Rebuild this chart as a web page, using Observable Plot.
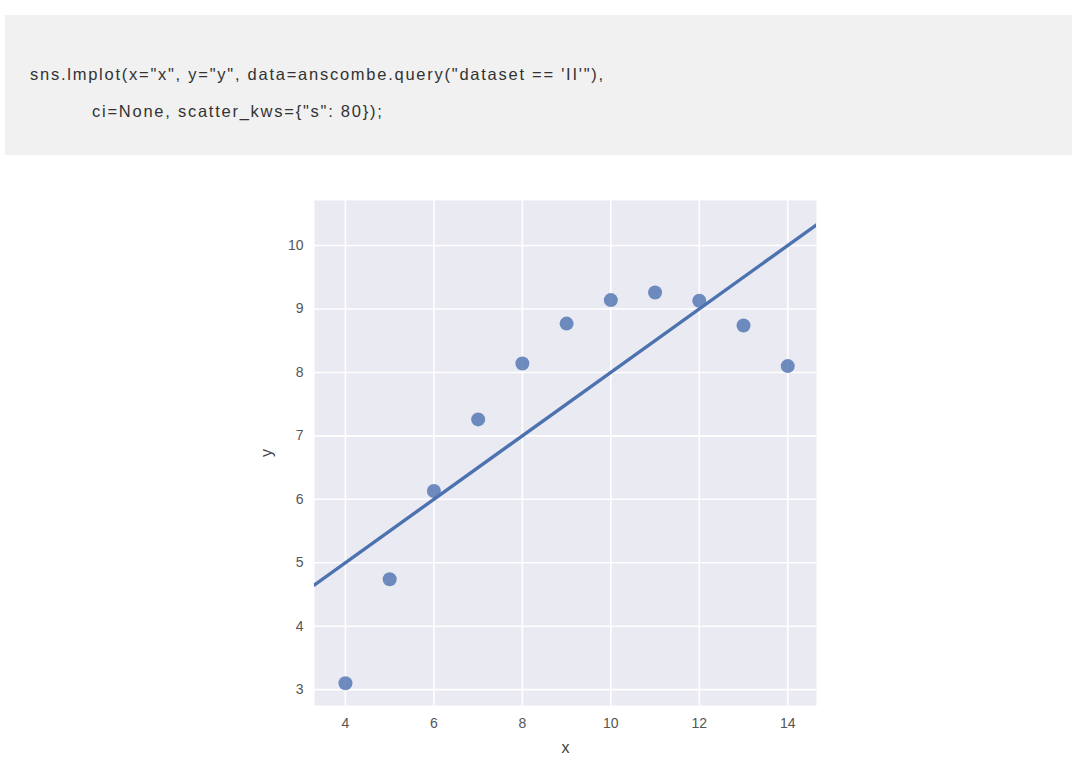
<!DOCTYPE html>
<html>
<head>
<meta charset="utf-8">
<script src="https://cdn.jsdelivr.net/npm/d3@7"></script>
<script src="https://cdn.jsdelivr.net/npm/@observablehq/plot@0.6"></script>
<style>
  html, body { margin: 0; padding: 0; background: #ffffff; width: 1080px; height: 758px; overflow: hidden; }
  #code {
    position: absolute; left: 5px; top: 15px; width: 1067px; height: 140px;
    background: #f1f1f1;
    font-family: "Liberation Sans", Arial, sans-serif; font-size: 16.5px; color: #333;
    letter-spacing: 1.75px;
  }
  #code .l1 { position: absolute; left: 25px; top: 50px; white-space: pre; }
  #code .l2 { position: absolute; left: 87px; top: 87px; white-space: pre; }
  #chart { position: absolute; left: 240px; top: 170px; }
</style>
</head>
<body>
<div id="code"><div class="l1">sns.lmplot(x="x", y="y", data=anscombe.query("dataset == 'II'"),</div><div class="l2">ci=None, scatter_kws={"s": 80});</div></div>
<div id="chart"></div>
<script>
const xs = [10, 8, 13, 9, 11, 14, 6, 4, 12, 7, 5];
const ys = [9.14, 8.14, 8.74, 8.77, 9.26, 8.10, 6.13, 3.10, 9.13, 7.26, 4.74];
const xDomain = [3.3, 14.65];
const yDomain = [2.75, 10.71];
const xTicks = [4, 6, 8, 10, 12, 14];
const yTicks = [3, 4, 5, 6, 7, 8, 9, 10];

const points = xs.map((x, i) => ({x, y: ys[i]}));
const mx = d3.mean(xs), my = d3.mean(ys);
const slope = d3.sum(xs, (x, i) => (x - mx) * (ys[i] - my)) / d3.sum(xs, x => (x - mx) ** 2);
const intercept = my - slope * mx;
const fit = xDomain.map(x => ({x, y: intercept + slope * x}));

const chart = Plot.plot({
  width: 586,
  height: 588,
  marginLeft: 74,
  marginRight: 10,
  marginTop: 30,
  marginBottom: 53,
  style: {fontFamily: "'Liberation Sans', Arial, sans-serif", fontSize: "14px", color: "#555", background: "transparent"},
  x: {domain: xDomain, ticks: xTicks},
  y: {domain: yDomain, ticks: yTicks},
  marks: [
    Plot.frame({fill: "#eaeaf2", stroke: null}),
    Plot.gridX(xTicks, {stroke: "#ffffff", strokeOpacity: 1, strokeWidth: 1.6}),
    Plot.gridY(yTicks, {stroke: "#ffffff", strokeOpacity: 1, strokeWidth: 1.6}),
    Plot.axisX(xTicks, {tickSize: 0, tickPadding: 13, tickFormat: d => String(d), label: null, fill: "#555", fontSize: 14}),
    Plot.axisY(yTicks, {tickSize: 0, tickPadding: 11, tickFormat: d => String(d), label: null, fill: "#555", fontSize: 14}),
    Plot.axisX({tickSize: 0, ticks: [], label: "x", labelAnchor: "center", labelArrow: "none", labelOffset: 47, fill: "#444", fontSize: 16}),
    Plot.axisY({tickSize: 0, ticks: [], label: "y", labelAnchor: "center", labelArrow: "none", labelOffset: 54, fill: "#444", fontSize: 16}),
    Plot.line(fit, {x: "x", y: "y", stroke: "#4c72b0", strokeWidth: 3.4, clip: true}),
    Plot.dot(points, {x: "x", y: "y", r: 7, fill: "#4c72b0", fillOpacity: 0.8, stroke: "none"})
  ]
});
document.getElementById("chart").appendChild(chart);
</script>
</body>
</html>
